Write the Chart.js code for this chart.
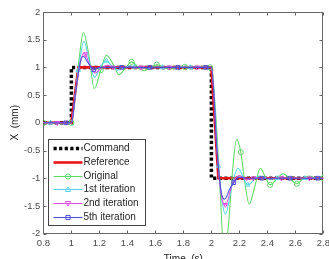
<!DOCTYPE html>
<html>
<head>
<meta charset="utf-8">
<script src="https://cdn.jsdelivr.net/npm/chart.js@4.4.0/dist/chart.umd.min.js"></script>
<style>
  html, body { margin: 0; padding: 0; background: #fff; overflow: hidden; }
  #wrap { position: relative; width: 334px; height: 269px; }
</style>
</head>
<body>
<div id="wrap"><canvas id="chart"></canvas></div>
<script>
// ticks
const xTicks = [0.8, 1, 1.2, 1.4, 1.6, 1.8, 2, 2.2, 2.4, 2.6, 2.8];
const xTickLabels = ['0.8', '1', '1.2', '1.4', '1.6', '1.8', '2', '2.2', '2.4', '2.6', '2.8'];
const yTicks = [-2, -1.5, -1, -0.5, 0, 0.5, 1, 1.5, 2];
const yTickLabels = ['-2', '-1.5', '-1', '-0.5', '0', '0.5', '1', '1.5', '2'];

// command / reference
const cmdT = [0.8, 1.0, 1.0, 2.0, 2.0, 2.8];
const cmdX = [0, 0, 1, 1, -1, -1];
const refT = [0.8, 1.0, 1.05, 2.0, 2.05, 2.8];
const refX = [0, 0, 1, 1, -1, -1];

// original response
const origT = [0.8, 0.9, 1.0, 1.03, 1.06, 1.086, 1.12, 1.164, 1.21, 1.25, 1.3, 1.34, 1.39, 1.43, 1.48, 1.52, 1.57, 1.61, 1.66, 1.7, 1.76, 1.81, 1.99, 2.0,
  2.03, 2.06, 2.09, 2.12, 2.15, 2.18, 2.21, 2.24, 2.27, 2.31, 2.35, 2.38, 2.42, 2.47, 2.51, 2.56, 2.61, 2.66, 2.7, 2.75, 2.8];
const origX = [0, 0, 0, 0.55, 1.25, 1.63, 1.3, 0.62, 0.95, 1.22, 1.05, 0.87, 1.0, 1.1, 1.0, 0.94, 1.0, 1.05, 1.0, 0.97, 1.0, 1.01, 1.0, 1.0,
  0.2, -1.1, -2.3, -1.9, -0.9, -0.3, -0.53, -1.1, -1.47, -1.15, -0.82, -0.95, -1.12, -1.0, -0.92, -1.0, -1.1, -1.0, -0.96, -1.0, -1.0];
const origMarks = [0.8, 1.0, 1.21, 1.43, 1.61, 1.81, 1.99, 2.21, 2.42, 2.61, 2.8];

// 1st iteration
const it1T = [0.8, 0.85, 1.0, 1.03, 1.05, 1.09, 1.125, 1.165, 1.205, 1.25, 1.29, 1.33, 1.38, 1.42, 1.45, 1.5, 1.65, 1.85, 2.0,
  2.05, 2.1, 2.15, 2.19, 2.26, 2.34, 2.42, 2.47, 2.67, 2.8];
const it1X = [0, 0, 0, 0.55, 0.95, 1.47, 1.15, 0.82, 1.0, 1.12, 1.02, 0.95, 1.0, 1.03, 1.01, 0.99, 1.0, 1.0, 1.0,
  -0.78, -1.65, -1.1, -0.82, -1.12, -0.96, -1.02, -1.0, -1.0, -1.0];
const it1Marks = [0.85, 1.05, 1.25, 1.45, 1.65, 1.85, 2.05, 2.26, 2.47, 2.67];

// 2nd iteration
const it2T = [0.8, 0.9, 1.0, 1.03, 1.06, 1.09, 1.1, 1.13, 1.17, 1.22, 1.26, 1.3, 1.5, 1.7, 1.9, 2.0,
  2.04, 2.07, 2.1, 2.15, 2.2, 2.25, 2.3, 2.5, 2.7, 2.8];
const it2X = [0, 0, 0, 0.55, 1.05, 1.26, 1.24, 1.05, 0.9, 1.0, 1.04, 1.0, 1.0, 1.0, 1.0, 1.0,
  -0.5, -1.3, -1.48, -1.1, -0.95, -1.03, -1.0, -1.0, -1.0, -1.0];
const it2Marks = [0.9, 1.1, 1.3, 1.5, 1.7, 1.9, 2.1, 2.3, 2.5, 2.7];

// 5th iteration
const it5T = [0.8, 0.96, 1.0, 1.03, 1.06, 1.085, 1.12, 1.16, 1.2, 1.36, 1.56, 1.76, 1.96, 2.0,
  2.04, 2.07, 2.095, 2.13, 2.16, 2.2, 2.25, 2.36, 2.56, 2.76, 2.8];
const it5X = [0, 0, 0, 0.55, 1.05, 1.2, 1.08, 0.96, 1.0, 1.0, 1.0, 1.0, 1.0, 1.0,
  -0.5, -1.25, -1.38, -1.2, -1.08, -0.98, -1.0, -1.0, -1.0, -1.0, -1.0];
const it5Marks = [0.96, 1.16, 1.36, 1.56, 1.76, 1.96, 2.16, 2.36, 2.56, 2.76];

const pts = (t, v) => t.map((x, i) => ({ x: x, y: v[i] }));
const markRadius = (marks) => (ctx) => (ctx.raw && marks.includes(ctx.raw.x)) ? 2.6 : 0;

function series(label, t, v, marks, color, style, rotation) {
  return {
    label: label,
    data: pts(t, v),
    borderColor: color,
    borderWidth: 1.1,
    cubicInterpolationMode: 'monotone',
    pointStyle: style,
    pointRotation: rotation || 0,
    pointRadius: markRadius(marks),
    pointBorderColor: color,
    pointBackgroundColor: 'rgba(0,0,0,0)',
    pointBorderWidth: 1,
    clip: 0
  };
}

// drawn top first
const datasets = [
  series('5th iteration', it5T, it5X, it5Marks, '#4f4fd8', 'rect'),
  series('2nd iteration', it2T, it2X, it2Marks, '#e052e0', 'triangle', 180),
  series('1st iteration', it1T, it1X, it1Marks, '#5cd4e6', 'triangle'),
  series('Original', origT, origX, origMarks, '#63d96b', 'circle'),
  { label: 'Reference', data: pts(refT, refX), borderColor: '#e8141a', borderWidth: 2.6, pointRadius: 0, tension: 0, clip: 0 },
  { label: 'Command', data: pts(cmdT, cmdX), borderColor: '#000', borderWidth: 3.5, borderDash: [3.2, 2.4], pointRadius: 0, tension: 0, clip: 0 }
];
const legendOrder = ['Command', 'Reference', 'Original', '1st iteration', '2nd iteration', '5th iteration'];

function drawMarker(ctx, style, rot, x, y, r) {
  ctx.beginPath();
  if (style === 'circle') {
    ctx.arc(x, y, r, 0, Math.PI * 2);
  } else if (style === 'rect') {
    ctx.rect(x - r * 0.8, y - r * 0.8, r * 1.6, r * 1.6);
  } else {
    const s = rot === 180 ? -1 : 1;
    ctx.moveTo(x, y - s * r);
    ctx.lineTo(x + r, y + s * r * 0.75);
    ctx.lineTo(x - r, y + s * r * 0.75);
    ctx.closePath();
  }
  ctx.stroke();
}

const framePlugin = {
  id: 'frame',
  beforeDatasetsDraw(chart) {
    const { ctx, chartArea: a, scales } = chart;
    const L = Math.round(a.left) + 0.5, R = Math.round(a.right) - 0.5;
    const T = Math.round(a.top) + 0.5, B = Math.round(a.bottom) - 0.5;
    ctx.save();
    ctx.strokeStyle = '#666';
    ctx.lineWidth = 1;
    ctx.strokeRect(L, T, R - L, B - T);
    ctx.beginPath();
    xTicks.forEach(v => {
      const px = Math.round(scales.x.getPixelForValue(v)) + 0.5;
      ctx.moveTo(px, B); ctx.lineTo(px, B - 3);
      ctx.moveTo(px, T); ctx.lineTo(px, T + 3);
    });
    yTicks.forEach(v => {
      const py = Math.round(scales.y.getPixelForValue(v)) + 0.5;
      ctx.moveTo(L, py); ctx.lineTo(L + 3, py);
      ctx.moveTo(R, py); ctx.lineTo(R - 3, py);
    });
    ctx.stroke();
    ctx.restore();
  }
};

const legendPlugin = {
  id: 'boxLegend',
  afterDraw(chart) {
    const { ctx, chartArea: a } = chart;
    const left = Math.round(a.left) + 5.5, top = Math.round(a.top) + 127.5;
    const w = 97, h = 86, row = 13.8;
    ctx.save();
    ctx.fillStyle = '#fff';
    ctx.fillRect(left, top, w, h);
    ctx.strokeStyle = '#444';
    ctx.lineWidth = 1;
    ctx.strokeRect(left, top, w, h);
    ctx.font = '10px "Liberation Sans", Arial, sans-serif';
    ctx.textBaseline = 'middle';
    legendOrder.forEach((name, i) => {
      const ds = chart.data.datasets.find(d => d.label === name);
      const y = Math.round(top + 8.5 + i * row) + 0.5;
      ctx.save();
      ctx.strokeStyle = ds.borderColor;
      ctx.lineWidth = ds.borderWidth;
      ctx.setLineDash(ds.borderDash || []);
      ctx.beginPath();
      ctx.moveTo(left + 5, y);
      ctx.lineTo(left + 34, y);
      ctx.stroke();
      ctx.setLineDash([]);
      if (ds.pointStyle && typeof ds.pointRadius === 'function') {
        ctx.lineWidth = 1;
        drawMarker(ctx, ds.pointStyle, ds.pointRotation, left + 19.5, y, 2.6);
      }
      ctx.restore();
      ctx.fillStyle = '#262626';
      ctx.fillText(name, left + 35, y);
    });
    ctx.restore();
  }
};

Chart.defaults.font.family = '"Liberation Sans", Arial, sans-serif';

new Chart(document.getElementById('chart'), {
  type: 'line',
  data: { datasets: datasets },
  options: {
    responsive: true,
    maintainAspectRatio: false,
    animation: false,
    events: [],
    layout: { padding: { left: 1, right: 0, top: 12, bottom: 0 } },
    plugins: { legend: { display: false }, tooltip: { enabled: false } },
    scales: {
      x: {
        type: 'linear',
        min: 0.8,
        max: 2.8,
        afterBuildTicks: (scale) => { scale.ticks = xTicks.map(v => ({ value: v })); },
        ticks: {
          callback: (v, i) => xTickLabels[i],
          font: { size: 9.5 },
          color: '#4a4a4a',
          padding: 4,
          maxRotation: 0,
          autoSkip: false
        },
        grid: { display: false, drawTicks: false },
        border: { display: false },
        title: { display: true, text: 'Time  (s)', font: { size: 10 }, color: '#262626', padding: { top: 0, bottom: 4 } }
      },
      y: {
        type: 'linear',
        min: -2,
        max: 2,
        afterBuildTicks: (scale) => { scale.ticks = yTicks.map(v => ({ value: v })); },
        ticks: {
          callback: (v, i) => yTickLabels[i],
          font: { size: 9.5 },
          color: '#4a4a4a',
          padding: 3,
          autoSkip: false
        },
        grid: { display: false, drawTicks: false },
        border: { display: false },
        title: { display: true, text: 'X  (mm)', font: { size: 10 }, color: '#262626', padding: { top: 8, bottom: 0 } }
      }
    }
  },
  plugins: [framePlugin, legendPlugin]
});
</script>
</body>
</html>
